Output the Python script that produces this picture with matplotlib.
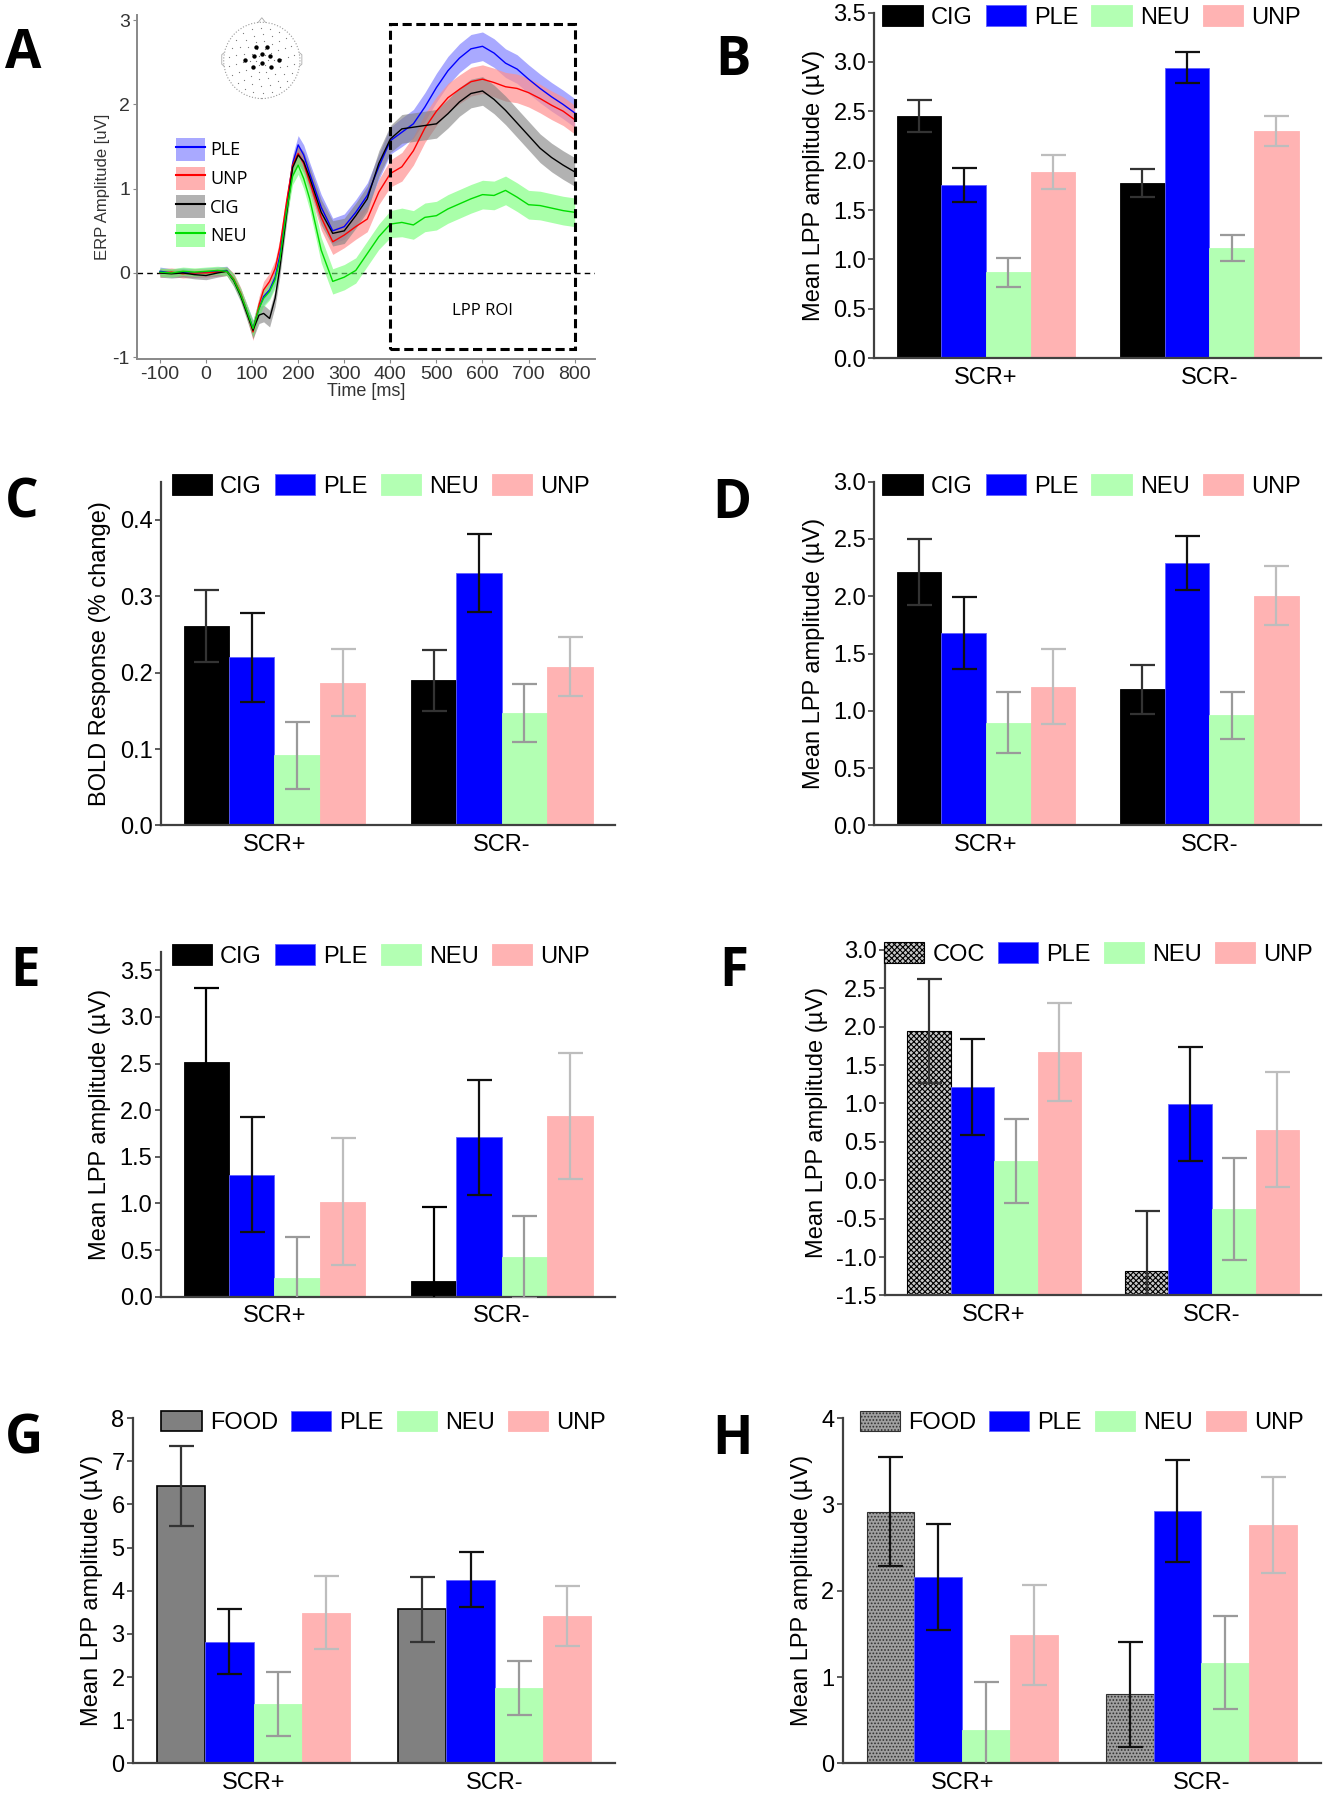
import numpy as np
import matplotlib
matplotlib.use("Agg")
import matplotlib.pyplot as plt
from matplotlib.patches import Patch, Rectangle, Circle, Polygon
from matplotlib.lines import Line2D

plt.rcParams['font.family'] = ['Liberation Sans Narrow', 'Liberation Sans', 'DejaVu Sans']
plt.rcParams['hatch.linewidth'] = 0.8
plt.rcParams['axes.unicode_minus'] = False

# ---------------- panel A : ERP waveforms ----------------
erp_t = [-100, -75, -50, -25, 0, 25, 45, 60, 75, 90, 102, 115, 125, 138, 150, 160,
         175, 188, 200, 212, 225, 250, 275, 300, 325, 350, 375, 400, 425, 450, 475,
         500, 525, 550, 575, 600, 625, 650, 675, 700, 725, 750, 775, 800]
erp_ple = [0.02, 0.0, 0.01, 0.0, 0.01, 0.02, 0.03, -0.08, -0.25, -0.47, -0.66, -0.42,
           -0.28, -0.2, -0.05, 0.2, 0.8, 1.3, 1.52, 1.4, 1.18, 0.78, 0.5, 0.55, 0.72,
           0.92, 1.26, 1.57, 1.67, 1.77, 1.97, 2.2, 2.4, 2.55, 2.66, 2.69, 2.61, 2.49,
           2.42, 2.3, 2.19, 2.09, 2.0, 1.9]
erp_unp = [0.0, 0.01, -0.01, 0.0, 0.0, 0.01, 0.02, -0.07, -0.24, -0.48, -0.7, -0.38,
           -0.2, -0.1, 0.05, 0.3, 0.85, 1.28, 1.42, 1.3, 1.08, 0.66, 0.37, 0.45, 0.55,
           0.64, 0.96, 1.18, 1.26, 1.45, 1.72, 1.92, 2.08, 2.18, 2.27, 2.3, 2.26, 2.21,
           2.19, 2.14, 2.07, 1.99, 1.92, 1.82]
erp_cig = [0.0, -0.01, 0.0, -0.02, -0.03, 0.0, 0.02, -0.09, -0.27, -0.5, -0.68, -0.5,
           -0.48, -0.54, -0.3, 0.05, 0.7, 1.25, 1.4, 1.32, 1.13, 0.72, 0.47, 0.5, 0.68,
           0.88, 1.3, 1.59, 1.71, 1.73, 1.75, 1.77, 1.89, 2.03, 2.13, 2.16, 2.06, 1.93,
           1.78, 1.63, 1.48, 1.37, 1.28, 1.2]
erp_neu = [0.01, 0.0, 0.02, 0.01, 0.02, 0.03, 0.02, -0.08, -0.25, -0.47, -0.66, -0.42,
           -0.3, -0.22, -0.08, 0.15, 0.75, 1.15, 1.28, 1.12, 0.88, 0.27, -0.1, -0.05,
           0.03, 0.23, 0.43, 0.58, 0.6, 0.57, 0.66, 0.68, 0.76, 0.82, 0.88, 0.93, 0.92,
           0.98, 0.9, 0.81, 0.8, 0.77, 0.74, 0.72]
erp_se = [0.05, 0.05, 0.05, 0.05, 0.05, 0.05, 0.05, 0.07, 0.07, 0.08, 0.1, 0.1, 0.1,
          0.1, 0.1, 0.1, 0.1, 0.1, 0.11, 0.12, 0.13, 0.15, 0.15, 0.15, 0.15, 0.15, 0.15,
          0.16, 0.17, 0.17, 0.17, 0.17, 0.17, 0.17, 0.17, 0.17, 0.17, 0.17, 0.17, 0.17,
          0.17, 0.17, 0.17, 0.17]

roi_x = [-0.14, 0.13, -0.20, 0.0, 0.21, -0.43, 0.44, -0.23, 0.0, 0.23]
roi_y = [0.36, 0.36, 0.11, 0.17, 0.11, 0.02, 0.02, -0.17, -0.07, -0.17]

# ---------------- bar panels ----------------
groups = ['SCR+', 'SCR-']
cond_cig = ['CIG', 'PLE', 'NEU', 'UNP']
cond_coc = ['COC', 'PLE', 'NEU', 'UNP']
cond_food = ['FOOD', 'PLE', 'NEU', 'UNP']

b_mean = [[2.455, 1.753, 0.87, 1.885], [1.773, 2.943, 1.116, 2.296]]
b_se = [[0.16, 0.172, 0.148, 0.168], [0.142, 0.156, 0.136, 0.152]]
c_mean = [[0.261, 0.220, 0.092, 0.187], [0.190, 0.330, 0.147, 0.208]]
c_se = [[0.047, 0.058, 0.044, 0.044], [0.040, 0.051, 0.038, 0.039]]
d_mean = [[2.21, 1.677, 0.896, 1.21], [1.187, 2.288, 0.96, 2.006]]
d_se = [[0.29, 0.314, 0.267, 0.327], [0.216, 0.237, 0.206, 0.254]]
e_mean = [[2.52, 1.31, 0.20, 1.02], [0.17, 1.71, 0.43, 1.94]]
e_se = [[0.79, 0.62, 0.445, 0.68], [0.79, 0.615, 0.44, 0.675]]
f_mean = [[1.94, 1.217, 0.252, 1.667], [-1.184, 0.997, -0.375, 0.659]]
f_se = [[0.675, 0.627, 0.55, 0.636], [0.78, 0.743, 0.662, 0.753]]
g_mean = [[6.43, 2.82, 1.374, 3.49], [3.57, 4.26, 1.743, 3.41]]
g_se = [[0.92, 0.755, 0.737, 0.845], [0.76, 0.63, 0.626, 0.697]]
h_mean = [[2.917, 2.16, 0.389, 1.484], [0.80, 2.925, 1.168, 2.763]]
h_se = [[0.633, 0.612, 0.555, 0.58], [0.608, 0.59, 0.538, 0.561]]

BLUE = '#0000ff'
GREEN = '#b3ffb3'
PINK = '#ffb3b3'
ERR_COLS = ['#333333', '#111111', '#9a9a9a', '#bdbdbd']
SPINE = '#404040'

fig = plt.figure(figsize=(13.29, 18), dpi=100)


def style_axes(ax, color=SPINE, lw=1.6):
    for s in ['top', 'right']:
        ax.spines[s].set_visible(False)
    for s in ['left', 'bottom']:
        ax.spines[s].set_color(color)
        ax.spines[s].set_linewidth(lw)


def bar_panel(rect, means, ses, names, first_style, ylim, yticks, fmt, ylabel,
              bottom=0.0, first_err='#333333', leg_x=0.5):
    ax = fig.add_axes(rect)
    style_axes(ax)
    width = 0.2
    offsets = [-1.5, -0.5, 0.5, 1.5]
    styles = [first_style,
              dict(color=BLUE, edgecolor='#6060ff', linewidth=0.6),
              dict(color=GREEN, edgecolor=GREEN, linewidth=0.6),
              dict(color=PINK, edgecolor=PINK, linewidth=0.6)]
    handles = []
    for k in range(4):
        xs = [g + offsets[k] * width for g in range(len(groups))]
        hs = [means[g][k] - bottom for g in range(len(groups))]
        bars = ax.bar(xs, hs, width, bottom=bottom, zorder=2, **styles[k])
        handles.append(bars)
        ecol = first_err if k == 0 else ERR_COLS[k]
        ax.errorbar(xs, [means[g][k] for g in range(len(groups))],
                    yerr=[ses[g][k] for g in range(len(groups))], fmt='none',
                    ecolor=ecol, elinewidth=1.6, capsize=9, capthick=1.6, zorder=3)
    ax.set_xlim(-0.5, 1.5)
    ax.set_ylim(*ylim)
    ax.set_yticks(yticks)
    ax.set_yticklabels([fmt % v for v in yticks])
    ax.set_xticks(range(len(groups)))
    ax.set_xticklabels(groups)
    ax.tick_params(axis='x', length=0, labelsize=17, pad=6)
    ax.tick_params(axis='y', length=4, width=1.2, color=SPINE, labelsize=17, pad=2)
    ax.set_ylabel(ylabel, fontsize=17, labelpad=6)
    ax.legend(handles, names, ncol=4, loc='upper center', bbox_to_anchor=(leg_x, 1.035),
              frameon=False, fontsize=17, handlelength=1.7, handleheight=0.95,
              handletextpad=0.35, columnspacing=0.55, borderaxespad=0.0,
              borderpad=0.2)
    return ax


lpp = 'Mean LPP amplitude (\u00b5V)'
black = dict(color='black', edgecolor='black', linewidth=0.6)

bar_panel([0.658, 0.801, 0.336, 0.192], b_mean, b_se, cond_cig, black,
          (0, 3.5), [0, 0.5, 1.0, 1.5, 2.0, 2.5, 3.0, 3.5], '%.1f', lpp, leg_x=0.486)
bar_panel([0.121, 0.5414, 0.342, 0.191], c_mean, c_se, cond_cig, black,
          (0, 0.45), [0, 0.1, 0.2, 0.3, 0.4], '%.1f', 'BOLD Response (% change)',
          leg_x=0.484)
bar_panel([0.658, 0.5414, 0.336, 0.191], d_mean, d_se, cond_cig, black,
          (0, 3.0), [0, 0.5, 1.0, 1.5, 2.0, 2.5, 3.0], '%.1f', lpp, leg_x=0.486)
bar_panel([0.121, 0.2796, 0.342, 0.1917], e_mean, e_se, cond_cig, black,
          (0, 3.7), [0, 0.5, 1.0, 1.5, 2.0, 2.5, 3.0, 3.5], '%.1f', lpp,
          first_err='#000000', leg_x=0.484)
bar_panel([0.666, 0.2803, 0.328, 0.192], f_mean, f_se, cond_coc,
          dict(color='#c8c8c8', edgecolor='black', hatch='xxxxxx', linewidth=0.8),
          (-1.5, 3.0), [-1.5, -1.0, -0.5, 0, 0.5, 1.0, 1.5, 2.0, 2.5, 3.0], '%.1f', lpp,
          bottom=-1.5, leg_x=0.49)
bar_panel([0.100, 0.0204, 0.363, 0.1917], g_mean, g_se, cond_food,
          dict(color='#808080', edgecolor='black', linewidth=1.2),
          (0, 8), [0, 1, 2, 3, 4, 5, 6, 7, 8], '%d', lpp, leg_x=0.52)
bar_panel([0.634, 0.0204, 0.360, 0.1917], h_mean, h_se, cond_food,
          dict(color='#a0a0a0', edgecolor='#303030', hatch='.....', linewidth=0.8),
          (0, 4), [0, 1, 2, 3, 4], '%d', lpp, first_err='#111111', leg_x=0.50)

# ---------------- draw panel A ----------------
axA = fig.add_axes([0.103, 0.8006, 0.345, 0.191])
style_axes(axA, color='#888888', lw=1.4)
t = np.array(erp_t)
se = np.array(erp_se)
series = [('PLE', erp_ple, '#0000ff', '#8c8cff', 0.75),
          ('UNP', erp_unp, '#ff0000', '#ff9090', 0.7),
          ('CIG', erp_cig, '#000000', '#808080', 0.6),
          ('NEU', erp_neu, '#00dd00', '#70ff70', 0.6)]
leg_handles = []
for name, vals, lc, fc, al in series:
    v = np.array(vals)
    axA.fill_between(t, v - se, v + se, color=fc, alpha=al, linewidth=0, zorder=1)
    leg_handles.append((Patch(facecolor=fc, alpha=al, edgecolor='none'),
                        Line2D([], [], color=lc, lw=1.5)))
for name, vals, lc, fc, al in series:
    axA.plot(t, vals, color=lc, lw=1.0, zorder=3)
axA.axhline(0, color='black', lw=1.0, ls=(0, (4, 3)), zorder=0)
axA.add_patch(Rectangle((400, -0.9), 400, 3.85, fill=False, edgecolor='black',
                        lw=2.2, ls=(0, (3, 1.5)), zorder=4))
axA.text(600, -0.45, 'LPP ROI', ha='center', va='center', fontsize=12,
         family=['Open Sans', 'DejaVu Sans'])
axA.set_xlim(-150, 845)
axA.set_ylim(-1.02, 3.06)
axA.set_xticks(range(-100, 801, 100))
axA.set_yticks([-1, 0, 1, 2, 3])
axA.tick_params(labelsize=14, length=3, color='#888888', labelcolor='#333333', pad=2)
axA.set_xlabel('Time [ms]', fontsize=13, labelpad=0, color='#333333')
axA.set_ylabel('ERP Amplitude [uV]', fontsize=12, labelpad=2, color='#333333')
axA.legend(leg_handles, [s[0] for s in series], loc='upper left',
           bbox_to_anchor=(0.05, 0.69), frameon=False,
           handlelength=1.6, handleheight=1.6, handletextpad=0.3, labelspacing=0.3,
           prop={'family': ['Open Sans', 'DejaVu Sans'], 'size': 13})

# electrode head inset
axH = fig.add_axes([0.164, 0.943, 0.066, 0.049])
axH.set_aspect('equal')
axH.axis('off')
axH.add_patch(Circle((0, 0), 1.0, fill=False, ec='#999999', lw=0.8, ls=':'))
axH.add_patch(Polygon([[-0.1, 0.99], [0, 1.12], [0.1, 0.99]], closed=False,
                      fill=False, ec='#aaaaaa', lw=0.6))
for sx in (-1, 1):
    axH.plot([sx * 0.99, sx * 1.05, sx * 1.05, sx * 0.99], [0.2, 0.15, -0.1, -0.15],
             color='#aaaaaa', lw=0.6)
ring_r = [0.15, 0.32, 0.5, 0.68, 0.86]
ring_n = [6, 10, 14, 18, 22]
for r, n in zip(ring_r, ring_n):
    ang = np.linspace(0, 2 * np.pi, n, endpoint=False) + 0.2 * r
    axH.scatter(r * np.cos(ang), r * np.sin(ang), s=0.8, color='#777777', lw=0)
axH.scatter(roi_x, roi_y, s=10, color='black', lw=0, zorder=3)
axH.set_xlim(-1.15, 1.15)
axH.set_ylim(-1.1, 1.2)

# panel letters
letters = [('A', 0.004, 0.985), ('B', 0.538, 0.981), ('C', 0.004, 0.735),
           ('D', 0.536, 0.735), ('E', 0.008, 0.475), ('F', 0.541, 0.475),
           ('G', 0.004, 0.215), ('H', 0.536, 0.215)]
for lab, x, y in letters:
    fig.text(x, y, lab, fontsize=38, fontweight='bold', va='top', ha='left',
             family=['Open Sans', 'DejaVu Sans'])

fig.savefig('out.png', dpi=100)
